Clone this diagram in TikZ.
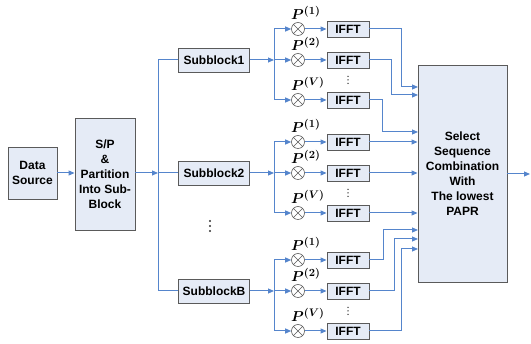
\documentclass[tikz,border=0pt]{standalone}
\usepackage{amsmath}
\usepackage{fontspec}
\setmainfont{Liberation Sans}
\usetikzlibrary{arrows.meta,calc}
\definecolor{ln}{HTML}{5585CC}
\definecolor{bx}{HTML}{E5EBF6}
\definecolor{bd}{HTML}{5A5A5A}
\tikzset{
  blk/.style={draw=bd, fill=bx, line width=0.9pt, font=\bfseries\fontsize{12}{15}\selectfont, align=center, inner sep=0pt},
  wire/.style={draw=ln, line width=1pt},
  arr/.style={wire, -{Triangle[length=6pt,width=5pt]}},
  mul/.style={circle, draw=bd, fill=white, minimum size=13pt, inner sep=0pt, line width=0.6pt},
  plab/.style={font=\fontsize{15}{15}\selectfont, inner sep=0pt, anchor=base west},
  dotmark/.style={circle, fill=black!80, inner sep=0pt, minimum size=#1}
}
\begin{document}
\begin{tikzpicture}[x=1pt,y=-1pt]
\useasboundingbox (0,0) rectangle (531,344);
\node[blk, minimum width=49pt, minimum height=52pt] (ds) at (32.5,173) {Data\\Source};
\node[blk, minimum width=60pt, minimum height=112pt] (sp) at (105,174) {S/P\\\&\\Partition\\Into Sub-\\Block};
\node[blk, minimum width=71pt, minimum height=24pt] (sb1) at (214,60) {Subblock1};
\node[blk, minimum width=71pt, minimum height=24pt] (sb2) at (214,173) {Subblock2};
\node[blk, minimum width=71pt, minimum height=24pt] (sbB) at (214,291) {SubblockB};
\node[blk, minimum width=89pt, minimum height=217pt] (sel) at (462.5,173.5) {Select\\Sequence\\Combination\\With\\The lowest\\PAPR};
\coordinate (tr1) at (158,60);
\coordinate (tr2) at (158,173);
\coordinate (trB) at (158,291);
\draw[wire] (tr1) -- (trB);
\draw[wire] (tr1) -- (sb1);
\draw[wire] (tr2) -- (sb2);
\draw[wire] (trB) -- (sbB);
\draw[arr] (ds) -- (sp.west |- ds);
\draw[arr] (sp.east |- tr2) -- (tr2);
\foreach \yy in {221,226,231}{\node[dotmark=2.3pt] at (210,\yy) {};}
\foreach \g/\y/\s in {1/60/sb1,2/173/sb2,3/291/sbB}{
  \coordinate (br\g) at (274,\y);
  \draw[arr] (\s) -- (br\g);
  \foreach \r/\o/\k in {a/-31/1,b/0/2,c/40/V}{
    \coordinate (bp\g\r) at (274,\y+\o);
    \node[mul] (m\g\r) at (298,\y+\o) {};
    \draw[bd, line width=0.6pt] (m\g\r.north east) -- (m\g\r.south west) (m\g\r.north west) -- (m\g\r.south east);
    \node[blk, minimum width=42pt, minimum height=16pt] (f\g\r) at (348,\y+\o) {IFFT};
    \draw[arr] (bp\g\r) -- (m\g\r);
    \draw[arr] (m\g\r) -- (f\g\r);
    \node[plab] (p\g\r) at (291,\y+\o-9) {$\boldsymbol{P^{(\k)}}$};
  }
  \draw[wire] (bp\g a) -- (bp\g c);
  \foreach \dd in {-3.5,0,3.5}{\node[dotmark=1.5pt] at (348,\y+20+\dd) {};}
}
\foreach \f/\xv/\yv [count=\i] in {f1a/401/87, f1b/391/95, f1c/382/132, f3a/383/230, f3b/394/239, f3c/401/249}{
  \coordinate (in\i) at (418,\yv);
  \draw[arr] (\f.east) -| (\xv,\yv) -- (in\i);
}
\draw[arr] (f2a.east) -- (f2a.east -| sel.west);
\draw[arr] (f2b.east) -- (f2b.east -| sel.west);
\draw[arr] (f2c.east) -- (f2c.east -| sel.west);
\coordinate (out) at (530,174);
\draw[arr] (sel.east |- out) -- (out);
\end{tikzpicture}
\end{document}
